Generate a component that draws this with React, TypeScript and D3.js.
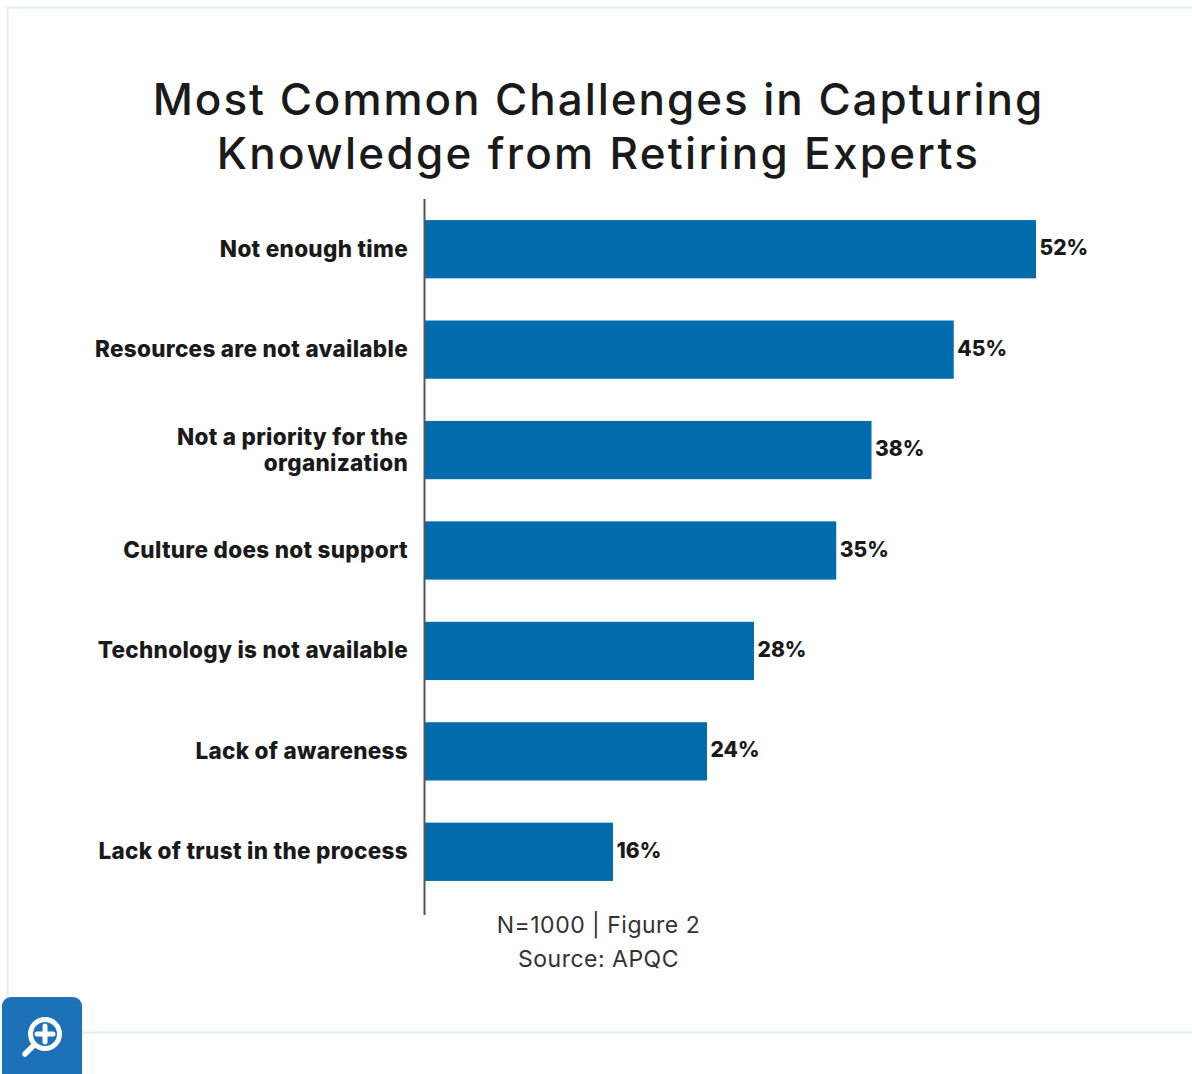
import React from "react";
import * as d3 from "d3";

const categories = [
  ["Not enough time"],
  ["Resources are not available"],
  ["Not a priority for the", "organization"],
  ["Culture does not support"],
  ["Technology is not available"],
  ["Lack of awareness"],
  ["Lack of trust in the process"],
];
const shares = [52, 45, 38, 35, 28, 24, 16];
const titleLines = ["Most Common Challenges in Capturing", "Knowledge from Retiring Experts"];
const footerLines = ["N=1000 | Figure 2", "Source: APQC"];

const FONT = "Inter, 'Open Sans', sans-serif";
const INK = "#1a1a1a";
const BAR = "#006bad";
const FRAME = "#e3edf0";

export default function App() {
  const x = d3.scaleLinear().domain([0, 52]).range([425, 1036]);
  const y = d3
    .scaleBand<number>()
    .domain(d3.range(shares.length))
    .range([199, 902])
    .paddingInner(0.42)
    .paddingOuter(0.21);

  return (
    <svg
      width={1192}
      height={1074}
      viewBox="0 0 1192 1074"
      style={{ position: "absolute", left: 0, top: 0, background: "#fff" }}
      fontFamily={FONT}
    >
      {/* page frame around the figure */}
      <path d="M1192 7.5H7.5V1032.5H1192" fill="none" stroke={FRAME} strokeWidth={2} />

      {titleLines.map((t, i) => (
        <text
          key={t}
          x={598.5}
          y={115 + i * 54}
          textAnchor="middle"
          fontSize={44}
          fontWeight={500}
          letterSpacing={i === 0 ? 1.95 : 2.3}
          fill={INK}
        >
          {t}
        </text>
      ))}

      {shares.map((v, i) => {
        const top = y(i)!;
        const mid = top + y.bandwidth() / 2;
        const lines = categories[i];
        return (
          <g key={lines[0]}>
            <rect x={x(0)} y={top} width={x(v) - x(0)} height={y.bandwidth()} fill={BAR} />
            {lines.map((l, j) => (
              <text
                key={l}
                x={408}
                y={mid + 7.5 + (j - (lines.length - 1) / 2) * 26}
                textAnchor="end"
                fontSize={22.5}
                fontWeight={800}
                letterSpacing={0.3}
                fill={INK}
              >
                {l}
              </text>
            ))}
            <text x={x(v) + 3.5} y={mid + 6} fontSize={21} fontWeight={800} fill={INK}>
              {v}%
            </text>
          </g>
        );
      })}

      <line x1={424.5} x2={424.5} y1={199} y2={915} stroke="#555" strokeWidth={2} />

      {footerLines.map((t, i) => (
        <text
          key={t}
          x={598.5}
          y={933 + i * 34}
          textAnchor="middle"
          fontSize={23}
          letterSpacing={0.5}
          fill="#333"
        >
          {t}
        </text>
      ))}

      {/* zoom button */}
      <rect x={2} y={997} width={80} height={90} rx={9} fill="#1c71b8" />
      <g fill="none" stroke="#fff" strokeLinecap="round">
        <circle cx={45} cy={1034} r={14.5} strokeWidth={5} />
        <line x1={34} y1={1045} x2={25} y2={1054} strokeWidth={5.5} />
        <line x1={37} y1={1034} x2={53} y2={1034} strokeWidth={5} />
        <line x1={45} y1={1026} x2={45} y2={1042} strokeWidth={5} />
      </g>
    </svg>
  );
}
